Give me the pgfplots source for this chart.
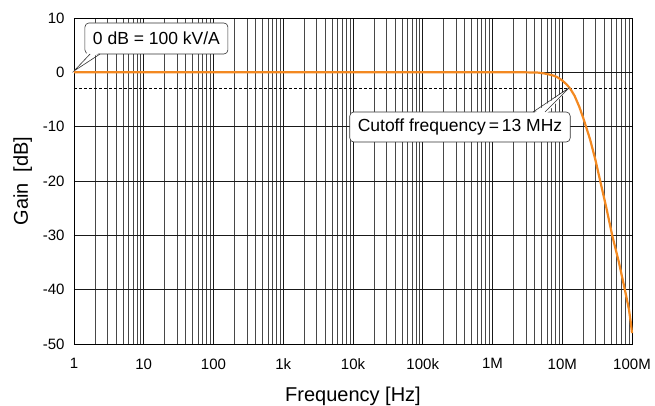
\documentclass[border=0pt]{standalone}
\usepackage{pgfplots}
\pgfplotsset{compat=1.18}
\usepackage{fontspec}
\setmainfont{Liberation Sans}
\definecolor{gaincurve}{RGB}{243,137,33}

\begin{document}
\begin{tikzpicture}[x=1pt,y=1pt]
  % fix the page to the reference frame (axis box is 558 x 326)
  \useasboundingbox (-74,-62) rectangle (581,344);
  \begin{axis}[
      at={(0,0)}, anchor=south west,
      scale only axis,
      width=558pt, height=326pt,
      xmode=log,
      xmin=1, xmax=1e8,
      ymin=-50, ymax=10,
      log basis x=10,
      xtick={1,10,100,1e3,1e4,1e5,1e6,1e7,1e8},
      xticklabels={1,10,100,1k,10k,100k,1M,10M,100M},
      minor xtick={2,3,4,5,6,7,8,9,
        2e1,3e1,4e1,5e1,6e1,7e1,8e1,9e1,
        2e2,3e2,4e2,5e2,6e2,7e2,8e2,9e2,
        2e3,3e3,4e3,5e3,6e3,7e3,8e3,9e3,
        2e4,3e4,4e4,5e4,6e4,7e4,8e4,9e4,
        2e5,3e5,4e5,5e5,6e5,7e5,8e5,9e5,
        2e6,3e6,4e6,5e6,6e6,7e6,8e6,9e6,
        2e7,3e7,4e7,5e7,6e7,7e7,8e7,9e7},
      ytick={-50,-40,-30,-20,-10,0,10},
      yticklabels={-50,-40,-30,-20,-10,0,10},
      grid=both,
      major grid style={black!90, line width=0.6pt},
      minor grid style={black!72, line width=0.5pt},
      major tick length=0pt, minor tick length=0pt,
      axis line style={black, line width=0.8pt},
      tick label style={font=\fontsize{15}{17}\selectfont},
      xticklabel style={yshift=-11pt},
      yticklabel style={xshift=-6pt},
      xlabel={Frequency [Hz]},
      ylabel={Gain\ \ [dB]},
      label style={font=\fontsize{20}{22}\selectfont},
      xlabel style={yshift=-11pt},
      ylabel style={yshift=4pt},
      clip=false,
    ]
    % -3 dB reference
    \addplot[black, dashed, line width=0.6pt, dash pattern=on 3pt off 2pt]
      coordinates {(1,-3) (1e8,-3)};
    % measured gain
    \addplot[gaincurve, line width=2.2pt, line join=round] coordinates {
      (1,0) (1e3,0) (1e6,0) (3e6,0) (4.5e6,-0.05) (5.5e6,-0.2) (6.5e6,-0.4)
      (7.5e6,-0.6) (8.5e6,-0.9) (1e7,-1.5) (1.15e7,-2.2) (1.3e7,-3)
      (1.5e7,-4.3) (1.75e7,-6.3) (2e7,-8.4) (2.5e7,-12.3) (3e7,-16.2)
      (3.5e7,-20) (4.3e7,-25) (5.2e7,-30) (6.5e7,-35) (7.9e7,-40)
      (9e7,-43.5) (9.6e7,-46) (1e8,-48)
    };

    % callout: 0 dB
    \node[draw=black!80, fill=white, rounded corners=4pt, line width=0.6pt,
          inner xsep=8pt, minimum height=31pt,
          font=\fontsize{17.5}{20}\selectfont]
      (c1) at (axis cs:15.2,6.23) {0 dB = 100 kV/A};
    \fill[white] (axis cs:1.62,3.9) -- (axis cs:1,0.25) -- (axis cs:2.45,3.9) -- cycle;
    \draw[black!80, line width=0.6pt]
      (axis cs:1.70,3.37) -- (axis cs:1,0.25) -- (axis cs:2.36,3.37);

    % callout: cutoff
    \node[draw=black!80, fill=white, rounded corners=4pt, line width=0.6pt,
          inner xsep=8pt, minimum height=30pt,
          font=\fontsize{17.5}{20}\selectfont]
      (c2) at (axis cs:3.42e5,-10.06) {Cutoff frequency\,=\,13 MHz};
    \fill[white] (axis cs:3.7e6,-7.8) -- (axis cs:1.27e7,-2.8) -- (axis cs:5.8e6,-7.8) -- cycle;
    \draw[black!80, line width=0.6pt]
      (axis cs:3.81e6,-7.30) -- (axis cs:1.27e7,-2.8) -- (axis cs:5.66e6,-7.30);
  \end{axis}
\end{tikzpicture}
\end{document}
